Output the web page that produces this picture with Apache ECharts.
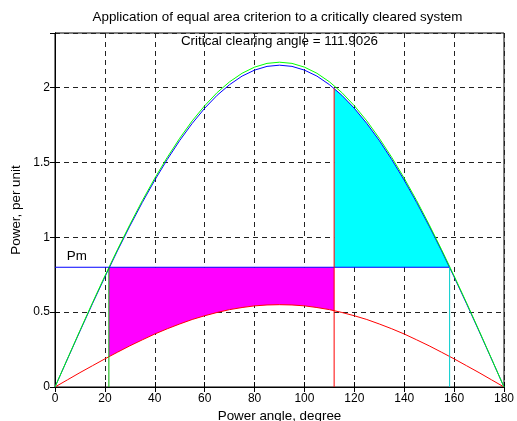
<!DOCTYPE html>
<html>
<head>
<meta charset="utf-8">
<script src="https://cdn.jsdelivr.net/npm/echarts@6/dist/echarts.min.js"></script>
<style>
html,body{margin:0;padding:0;background:#fff;}
#c{width:517px;height:421px;}
</style>
</head>
<body>
<div id="c"></div>
<script>
// ---- data ----
var angles = [0,5,10,15,20,25,30,35,40,45,50,55,60,65,70,75,80,85,90,95,100,105,110,115,120,125,130,135,140,145,150,155,160,165,170,175,180];
var prefaultP = [0,0.189,0.377,0.562,0.742,0.917,1.085,1.245,1.395,1.534,1.662,1.778,1.879,1.967,2.039,2.096,2.137,2.162,2.170,2.162,2.137,2.096,2.039,1.967,1.879,1.778,1.662,1.534,1.395,1.245,1.085,0.917,0.742,0.562,0.377,0.189,0];
var postfaultP = [0,0.187,0.373,0.556,0.735,0.909,1.075,1.233,1.382,1.520,1.647,1.761,1.862,1.949,2.020,2.077,2.117,2.142,2.150,2.142,2.117,2.077,2.020,1.949,1.862,1.761,1.647,1.520,1.382,1.233,1.075,0.909,0.735,0.556,0.373,0.187,0];
var faultP = [0,0.048,0.096,0.142,0.188,0.232,0.275,0.315,0.354,0.389,0.421,0.451,0.476,0.498,0.517,0.531,0.542,0.548,0.550,0.548,0.542,0.531,0.517,0.498,0.476,0.451,0.421,0.389,0.354,0.315,0.275,0.232,0.188,0.142,0.096,0.048,0];
var Pm = 0.8;
var delta0 = 21.6;
var deltaC = 111.9026;
var deltaMax = 158.2;
var faultAtDelta0 = 0.203;
var faultAtDeltaC = 0.510;
var postAtDeltaC = 1.995;
var xTicks = [0,20,40,60,80,100,120,140,160,180];
var yTicks = [0,0.5,1,1.5,2];
var yMax = 2.365;
var titleText = 'Application of equal area criterion to a critically cleared system';
var ccText = 'Critical clearing angle = 111.9026';
var pmText = 'Pm';
var xName = 'Power angle, degree';
var yName = 'Power, per unit';

function pairs(xs, ys){ return xs.map(function(x,i){return [x, ys[i]];}); }
function segment(xs, ys, a, b, ya, yb){
  var out = [[a, ya]];
  for (var i=0;i<xs.length;i++){ if (xs[i] > a && xs[i] < b) out.push([xs[i], ys[i]]); }
  out.push([b, yb]);
  return out;
}
var magentaData = segment(angles, faultP, delta0, deltaC, faultAtDelta0, faultAtDeltaC);
var cyanData = segment(angles, postfaultP, deltaC, deltaMax, postAtDeltaC, Pm);

var FONT = 'Liberation Sans, Arial, sans-serif';
var TXT = 13.4;
var chart = echarts.init(document.getElementById('c'), null, {renderer:'canvas'});

function polySeries(name, data, color){
  return {
    type:'custom', name:name, z:1,
    data:[0],
    renderItem:function(params, api){
      var pts = data.map(function(p){return api.coord(p);});
      var last = data[data.length-1], first = data[0];
      pts.push(api.coord([last[0], Pm]));
      pts.push(api.coord([first[0], Pm]));
      return {type:'polygon', shape:{points:pts}, style:{fill:color, stroke:null}};
    }
  };
}
function lineSeries(data, color, z){
  return {type:'line', data:data, symbol:'none', silent:true, animation:false, z:z||3,
          lineStyle:{color:color, width:1}};
}

var splitStyle = {show:true, lineStyle:{color:'#222', type:[5,4], width:1}};
chart.setOption({
  animation:false,
  grid:{left:55, right:13, top:33, bottom:34, show:true, borderColor:'#000', borderWidth:1,
        backgroundColor:'#fff', containLabel:false, outerBoundsMode:'none'},
  xAxis:[{
    type:'value', min:0, max:180, interval:20, position:'bottom',
    name:xName, nameLocation:'middle', nameGap:22,
    nameTextStyle:{fontFamily:FONT, fontSize:TXT, color:'#000'},
    axisLine:{show:true, lineStyle:{color:'#000'}},
    axisTick:{show:true, inside:true, length:5, lineStyle:{color:'#000'}},
    axisLabel:{fontFamily:FONT, fontSize:12, color:'#000', margin:6},
    splitLine:splitStyle
  },{
    type:'value', min:0, max:180, interval:20, position:'top',
    axisLine:{show:true, lineStyle:{color:'#000'}},
    axisTick:{show:true, inside:true, length:5, lineStyle:{color:'#000'}},
    axisLabel:{show:false}, splitLine:{show:false}
  }],
  yAxis:[{
    type:'value', min:0, max:yMax, interval:0.5, position:'left',
    name:yName, nameLocation:'middle', nameGap:32,
    nameTextStyle:{fontFamily:FONT, fontSize:TXT, color:'#000'},
    axisLine:{show:true, lineStyle:{color:'#000'}},
    axisTick:{show:true, inside:true, length:5, lineStyle:{color:'#000'}},
    axisLabel:{fontFamily:FONT, fontSize:12, color:'#000', margin:5, showMaxLabel:false,
      formatter:function(v){ return yTicks.indexOf(v) >= 0 ? String(v) : ''; }},
    splitLine:splitStyle
  },{
    type:'value', min:0, max:yMax, interval:0.5, position:'right',
    axisLine:{show:true, lineStyle:{color:'#000'}},
    axisTick:{show:true, inside:true, length:5, lineStyle:{color:'#000'}},
    axisLabel:{show:false}, splitLine:{show:false}
  }],
  series:[
    polySeries('area1', magentaData, '#ff00ff'),
    polySeries('area2', cyanData, '#00ffff'),
    lineSeries(pairs(angles, faultP), '#ff0000'),
    lineSeries(pairs(angles, postfaultP), '#0000ff'),
    lineSeries(pairs(angles, prefaultP), '#00ff00'),
    lineSeries([[0,Pm],[deltaMax,Pm]], '#0000ff'),
    lineSeries([[delta0,0],[delta0,Pm]], '#00b000'),
    lineSeries([[deltaC,0],[deltaC,postAtDeltaC]], '#ff0000'),
    lineSeries([[deltaMax,0],[deltaMax,Pm]], '#00cccc')
  ]
});

var FONTSTR = TXT + 'px "Liberation Sans", Arial, sans-serif';
var pc = chart.convertToPixel({xAxisIndex:0, yAxisIndex:0}, [90, 2.31]);
var pp = chart.convertToPixel({xAxisIndex:0, yAxisIndex:0}, [4.7, 0.87]);
chart.setOption({
  graphic:[
    {type:'text', x:277.5, y:17, z:10, style:{text:titleText, font:FONTSTR, fill:'#000', align:'center', verticalAlign:'middle'}},
    {type:'text', x:pc[0], y:pc[1], z:10, style:{text:ccText, font:FONTSTR, fill:'#000', align:'center', verticalAlign:'middle'}},
    {type:'text', x:pp[0], y:pp[1], z:10, style:{text:pmText, font:FONTSTR, fill:'#000', align:'left', verticalAlign:'middle'}}
  ]
});
</script>
</body>
</html>
